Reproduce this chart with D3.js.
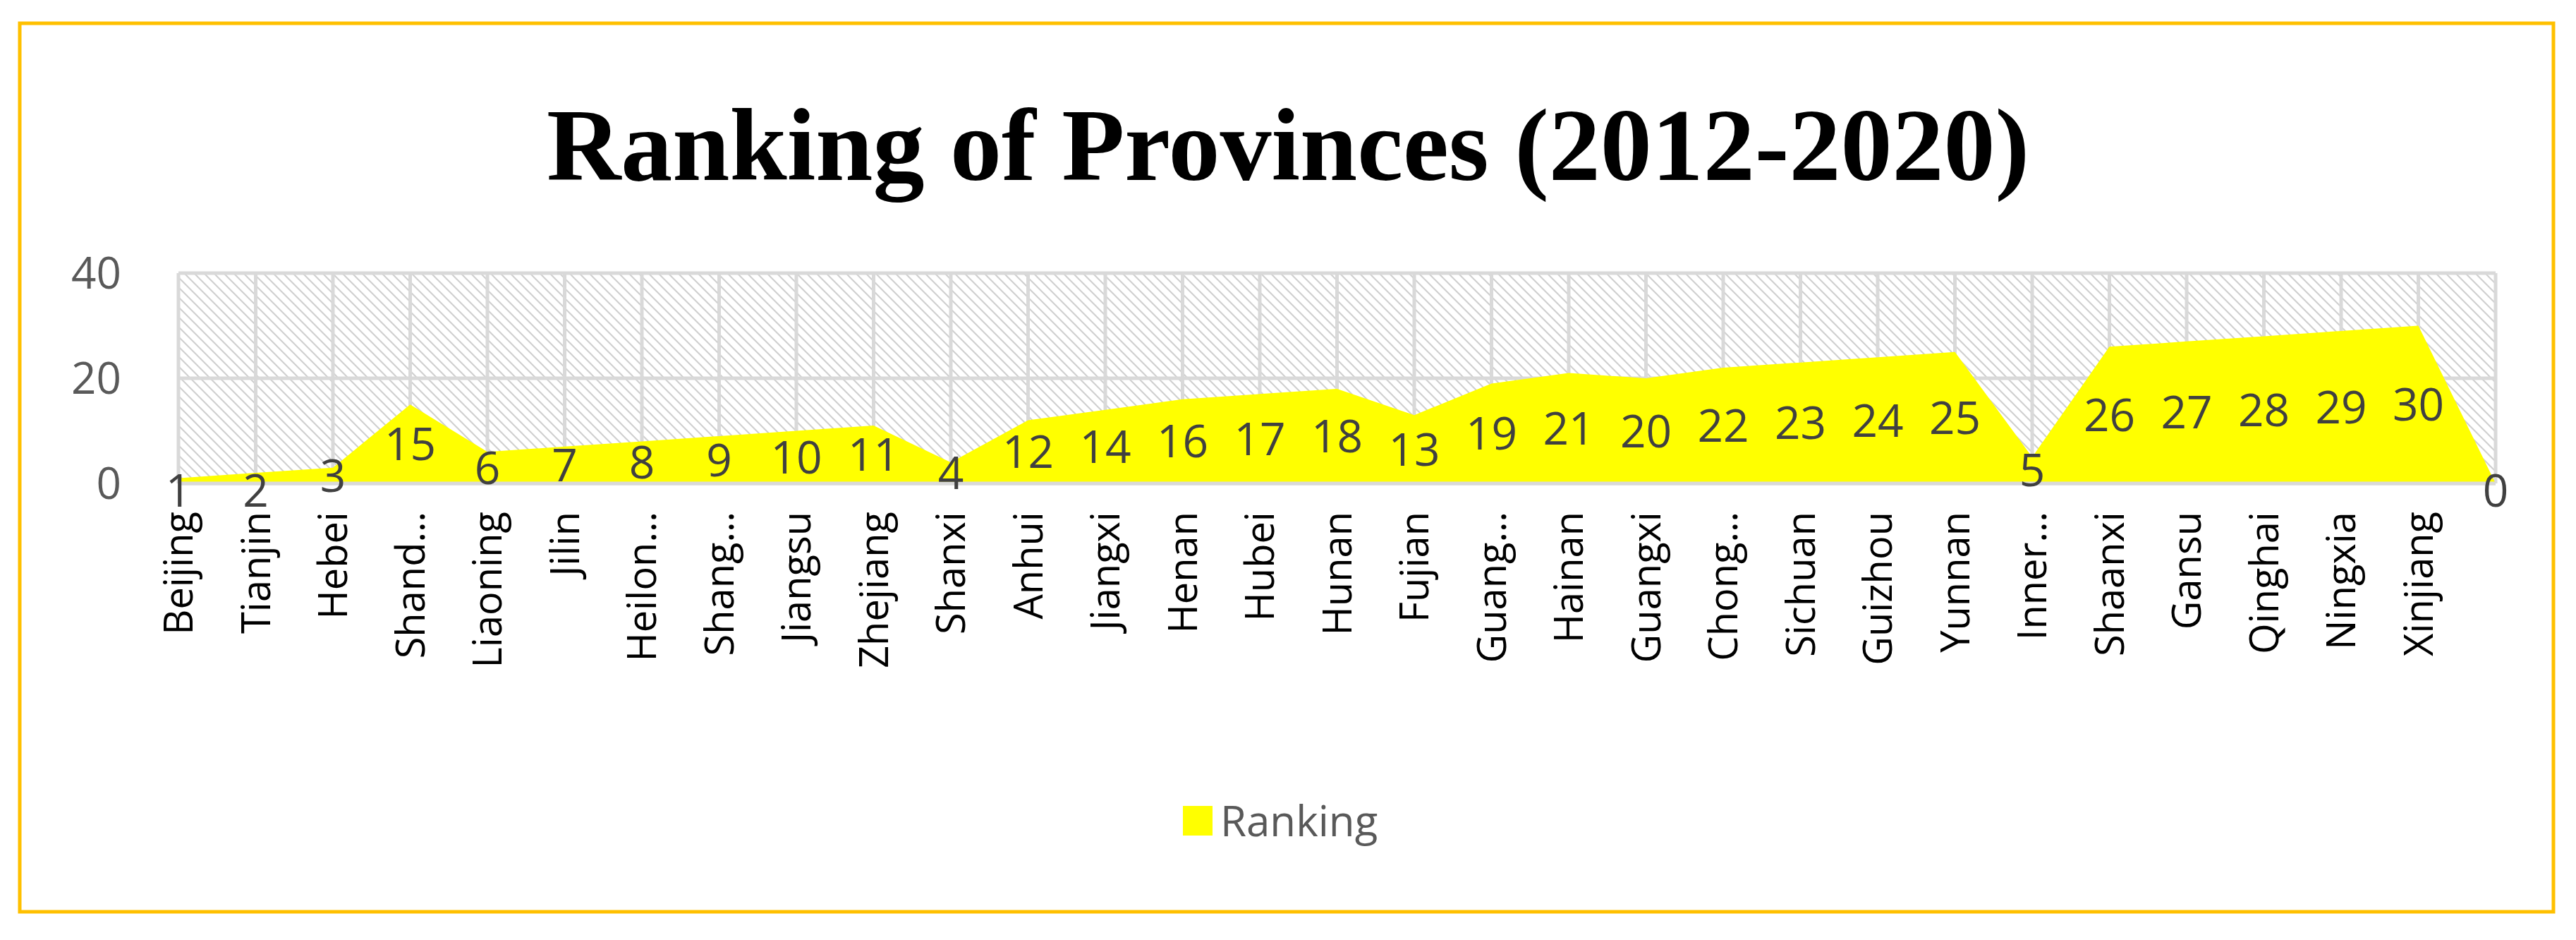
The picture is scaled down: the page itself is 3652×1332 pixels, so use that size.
<!DOCTYPE html>
<html><head><meta charset="utf-8">
<script src="https://cdn.jsdelivr.net/npm/d3@7"></script>
<style>body{margin:0;background:#fff}</style></head>
<body><svg id="c" width="3652" height="1332"></svg>
<script>
const categories=["Beijing","Tianjin","Hebei","Shand…","Liaoning","Jilin","Heilon…","Shang…","Jiangsu","Zhejiang","Shanxi","Anhui","Jiangxi","Henan","Hubei","Hunan","Fujian","Guang…","Hainan","Guangxi","Chong…","Sichuan","Guizhou","Yunnan","Inner…","Shaanxi","Gansu","Qinghai","Ningxia","Xinjiang",""];
const ranking=[1,2,3,15,6,7,8,9,10,11,4,12,14,16,17,18,13,19,21,20,22,23,24,25,5,26,27,28,29,30,0];
const yTicks=[0,20,40];
const svg=d3.select("#c");
svg.append("rect").attr("x",28).attr("y",33).attr("width",3592).attr("height",1259).attr("fill","#fff").attr("stroke","#FFC000").attr("stroke-width",5);
const defs=svg.append("defs");
const p=defs.append("pattern").attr("id","h").attr("patternUnits","userSpaceOnUse").attr("width",14).attr("height",14);
p.append("rect").attr("width",14).attr("height",14).attr("fill","#fff");
p.append("path").attr("d","M0,0L14,14M-7,7L7,21M7,-7L21,7").attr("stroke","#cfcfcf").attr("stroke-width",2);
const L=253,R=3538,T=387,B=685;
const x=d3.scalePoint().domain(d3.range(categories.length)).range([L,R]);
const y=d3.scaleLinear().domain([0,40]).range([B,T]);
svg.append("rect").attr("x",L).attr("y",T).attr("width",R-L).attr("height",B-T).attr("fill","url(#h)");
const g=svg.append("g");
g.selectAll(".hg").data(yTicks).join("line").attr("x1",L).attr("x2",R).attr("y1",d=>y(d)).attr("y2",d=>y(d)).attr("stroke","#d9d9d9").attr("stroke-width",5);
g.selectAll(".vg").data(d3.range(categories.length)).join("line").attr("x1",d=>x(d)).attr("x2",d=>x(d)).attr("y1",T).attr("y2",B).attr("stroke","#d9d9d9").attr("stroke-width",5);
const area=d3.area().x((d,i)=>x(i)).y0(B).y1(d=>y(d));
svg.append("path").datum(ranking).attr("d",area).attr("fill","#FFFF00");
svg.append("line").attr("x1",L).attr("x2",R).attr("y1",B).attr("y2",B).attr("stroke","#d9d9d9").attr("stroke-width",5);
svg.selectAll(".yt").data(yTicks).join("text").attr("x",172).attr("y",d=>y(d)).attr("dy","0.36em").attr("text-anchor","end")
 .attr("font-family","Open Sans, sans-serif").attr("font-size",62).attr("fill","#595959").text(d=>d);
svg.selectAll(".dl").data(ranking).join("text").attr("x",(d,i)=>x(i)).attr("y",d=>d<3?B+10:Math.min(y(d/2),B-4)).attr("dy","0.36em").attr("text-anchor","middle")
 .attr("font-family","Open Sans, sans-serif").attr("font-size",64).attr("fill","#404040").text(d=>d);
svg.selectAll(".xl").data(categories).join("text").attr("transform",(d,i)=>`translate(${x(i)+20},${B+40}) rotate(-90)`).attr("text-anchor","end")
 .attr("font-family","Open Sans, sans-serif").attr("font-size",56).attr("fill","#000").text(d=>d);
svg.append("text").attr("x",1826).attr("y",255).attr("text-anchor","middle").attr("font-family","Liberation Serif, serif").attr("font-weight","bold").attr("font-size",146).attr("fill","#000").text("Ranking of Provinces (2012-2020)");
svg.append("rect").attr("x",1677).attr("y",1142).attr("width",42).attr("height",42).attr("fill","#FFFF00");
svg.append("text").attr("x",1730).attr("y",1163).attr("dy","0.36em").attr("font-family","Open Sans, sans-serif").attr("font-size",60).attr("fill","#595959").text("Ranking");
</script></body></html>
